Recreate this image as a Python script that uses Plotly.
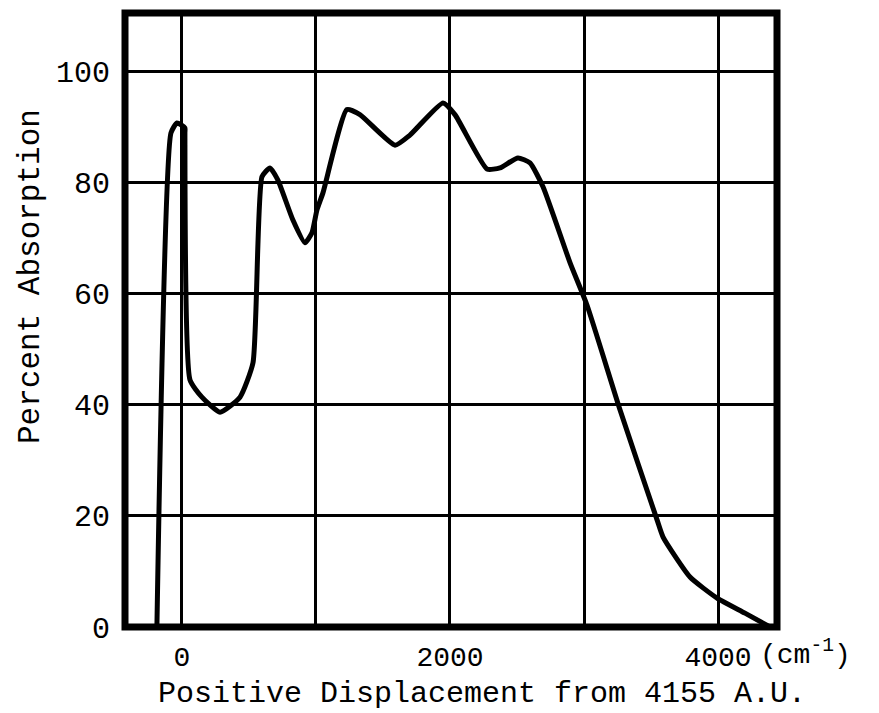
import plotly.graph_objects as go

# Data (displacement in cm^-1, percent absorption)
displacement = [-187, -82, -37, 22, 22, 60, 149, 284, 433, 530, 597, 657, 716, 828, 918,
                970, 1007, 1052, 1231, 1328, 1590, 1701, 1948, 2037, 2276, 2373, 2507,
                2597, 2694, 2896, 3022, 3269, 3545, 3590, 3791, 3993, 4201, 4388]
absorption = [0, 89.0, 90.8, 89.9, 89.0, 44.5, 41.4, 38.7, 41.4, 47.6, 81.1, 82.7, 80.5,
              73.3, 69.2, 71.0, 75.1, 78.2, 93.2, 92.3, 86.8, 88.6, 94.4, 92.3, 82.5,
              82.7, 84.5, 83.6, 79.3, 65.6, 58.0, 39.1, 19.3, 16.2, 9.0, 5.2, 2.5, 0]

x_tickvals = [0, 2000, 4000]
x_ticktext = ["0", "2000", "4000"]
x_minor_grid = [1000, 3000]
y_tickvals = [0, 20, 40, 60, 80, 100]
y_ticktext = ["0", "20", "40", "60", "80", "100"]

FONT = "Liberation Mono, Courier New, monospace"

fig = go.Figure()
fig.add_trace(go.Scatter(
    x=displacement, y=absorption, mode="lines",
    line=dict(color="black", width=5, shape="spline", smoothing=0.5),
    hoverinfo="skip", showlegend=False,
))

fig.update_layout(
    width=879, height=713,
    margin=dict(l=125, r=102, t=13, b=86),
    paper_bgcolor="white", plot_bgcolor="white",
    font=dict(family=FONT, color="black", size=30),
    xaxis=dict(
        range=[-425, 4440], tickvals=x_tickvals, ticktext=x_ticktext,
        showgrid=True, gridcolor="black", gridwidth=3,
        minor=dict(tickvals=x_minor_grid, showgrid=True, gridcolor="black", gridwidth=3, ticks=""),
        zeroline=False, showline=False,
        ticks="", ticklabelstandoff=10, tickfont=dict(size=28, family=FONT),
    ),
    yaxis=dict(
        range=[0, 110.6], tickvals=y_tickvals, ticktext=y_ticktext,
        showgrid=True, gridcolor="black", gridwidth=3,
        zeroline=False, showline=False,
        ticks="", ticklabelstandoff=14, tickfont=dict(size=30, family=FONT),
    ),
    shapes=[
        dict(type="rect", xref="paper", yref="paper", x0=0, x1=1, y0=0, y1=1,
             line=dict(color="black", width=7), fillcolor="rgba(0,0,0,0)", layer="above"),
    ],
    annotations=[
        dict(text="Positive Displacement from 4155 A.U.", xref="paper", yref="paper",
             x=(482 - 125) / 614 * 614 / 652, y=-(694 - 627) / 614, xanchor="center", yanchor="middle",
             showarrow=False, font=dict(size=30, family=FONT)),
        dict(text="Percent Absorption", xref="paper", yref="paper",
             x=-(125 - 30) / 652, y=(627 - 277) / 614, xanchor="center", yanchor="middle",
             textangle=-90, showarrow=False, font=dict(size=31, family=FONT)),
        dict(text="(cm<sup>-1</sup>)", xref="paper", yref="paper",
             x=(758 - 125) / 652, y=-(653 - 627) / 614, xanchor="left", yanchor="middle",
             showarrow=False, font=dict(size=28, family=FONT)),
    ],
)

fig.write_html("out.html")
